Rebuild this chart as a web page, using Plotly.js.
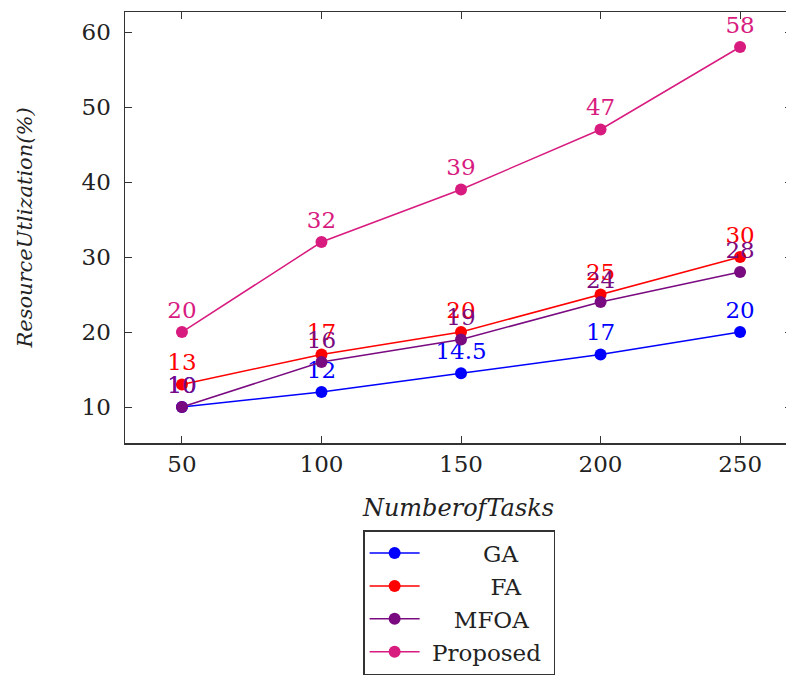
<!DOCTYPE html>
<html>
<head>
<meta charset="utf-8">
<script src="https://cdn.plot.ly/plotly-3.0.1.min.js"></script>
<style>
html,body{margin:0;padding:0;overflow:hidden;background:#fff;width:786px;height:678px;}
#chart{width:800px;height:690px;}
</style>
</head>
<body>
<div id="chart"></div>
<script>
const tasks = [50, 100, 150, 200, 250];
const seriesNames = ["GA", "FA", "MFOA", "Proposed"];
const gaValues = [10, 12, 14.5, 17, 20];
const faValues = [13, 17, 20, 25, 30];
const mfoaValues = [10, 16, 19, 24, 28];
const proposedValues = [20, 32, 39, 47, 58];
const xTickVals = [50, 100, 150, 200, 250];
const yTickVals = [10, 20, 30, 40, 50, 60];

const colors = ["#0000ff", "#ff0000", "#7a0a80", "#d81b7f"];
const allValues = [gaValues, faValues, mfoaValues, proposedValues];
const nb = n => "\u00A0".repeat(n);
const padL = [8, 9, 4, 1];
const legendLabels = seriesNames.map((n, i) => nb(padL[i]) + n + nb(1));

const serif = "'DejaVu Serif', 'Liberation Serif', serif";

const traces = allValues.map((vals, i) => ({
  x: tasks,
  y: vals,
  name: legendLabels[i],
  type: "scatter",
  mode: "lines+markers+text",
  text: vals.map(v => String(v)),
  textposition: "top center",
  textfont: {family: serif, size: 23, color: colors[i]},
  line: {color: colors[i], width: 1.5},
  marker: {color: colors[i], size: 12},
  cliponaxis: false
}));

const layout = {
  width: 800,
  height: 690,
  margin: {l: 125, r: 8, t: 12, b: 247},
  paper_bgcolor: "#fff",
  plot_bgcolor: "#fff",
  font: {family: serif, size: 23, color: "#222"},
  xaxis: {
    range: [29.6, 268.6],
    tickvals: xTickVals,
    ticks: "inside",
    ticklen: 7,
    tickcolor: "#333",
    showline: true,
    linecolor: "#333",
    linewidth: 1.5,
    mirror: "allticks",
    showgrid: false,
    zeroline: false,
    tickfont: {family: serif, size: 23, color: "#222"},
    title: {text: "<i>NumberofTasks</i>", font: {family: serif, size: 24, color: "#222"}, standoff: 23}
  },
  yaxis: {
    range: [5.2, 62.67],
    tickvals: yTickVals,
    ticks: "inside",
    ticklen: 7,
    tickcolor: "#333",
    showline: true,
    linecolor: "#333",
    linewidth: 1.5,
    mirror: "allticks",
    showgrid: false,
    zeroline: false,
    ticklabelstandoff: 8,
    tickfont: {family: serif, size: 23, color: "#222"},
    title: {text: "<i>ResourceUtlization(%)</i>\u2003\u2003", font: {family: serif, size: 21, color: "#222"}, standoff: 43}
  },
  showlegend: true,
  legend: {
    x: 0.357,
    y: -0.202,
    xanchor: "left",
    yanchor: "top",
    bordercolor: "#333",
    borderwidth: 1.5,
    bgcolor: "#fff",
    font: {family: serif, size: 23, color: "#222"},
    itemwidth: 50,
    tracegroupgap: 0
  }
};

Plotly.newPlot("chart", traces, layout, {displayModeBar: false, staticPlot: true});
</script>
</body>
</html>
